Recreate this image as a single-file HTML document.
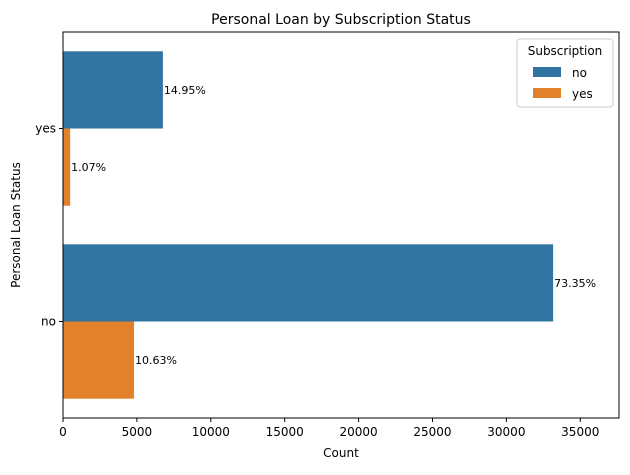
<!DOCTYPE html>
<html><head><meta charset="utf-8"><style>
body{margin:0;background:#fff;font-family:"Liberation Sans","DejaVu Sans",sans-serif}
svg text{font-family:"DejaVu Sans","Liberation Sans",sans-serif}
</style></head><body>
<svg width="630" height="470" viewBox="0 0 630 470">
<g id="plot"></g>
</svg>
<script>
const categories = ["yes","no"];
const seriesNames = ["no","yes"];
const seriesNo = [6760, 33162];
const seriesYes = [484, 4805];
const pctNo = ["14.95%","73.35%"];
const pctYes = ["1.07%","10.63%"];
const xTicks = [0,5000,10000,15000,20000,25000,30000,35000];
const colors = ["#3274a1","#e1812c"];
const L=63,R=619,T=32,B=418, XMAX=37620;
const x=v=>L+(v/XMAX)*(R-L);
const band=(B-T)/categories.length;
const yc=i=>T+band*(i+0.5);
const g=document.getElementById('plot');
const NS="http://www.w3.org/2000/svg";
function mk(t,a,txt){const e=document.createElementNS(NS,t);for(const k in a)e.setAttribute(k,a[k]);if(txt!=null)e.textContent=txt;g.appendChild(e);return e;}
const bh=band*0.4;
categories.forEach((c,i)=>{
  [seriesNo,seriesYes].forEach((s,j)=>{
    const y0=yc(i)-bh+j*bh;
    const r=mk('rect',{x:L,y:y0,width:x(s[i])-L,height:bh,fill:colors[j]});
    
    
    const lab=[pctNo,pctYes][j][i];
    const t=mk('text',{x:x(s[i])+1,y:y0+bh/2+4,'font-size':11,fill:'#000'},lab);
    
    
  });
  mk('line',{x1:L-4,x2:L,y1:yc(i),y2:yc(i),stroke:'#000'});
  const t=mk('text',{x:L-7,y:yc(i)+4,'font-size':12,'text-anchor':'end'},c);
  
  
});
xTicks.forEach(v=>{
  mk('line',{x1:x(v),x2:x(v),y1:B,y2:B+4,stroke:'#000'});
  const t=mk('text',{x:x(v),y:B+18,'font-size':12,'text-anchor':'middle'},v);
  
  
});
const fr=mk('rect',{x:L,y:T,width:R-L,height:B-T,fill:'none',stroke:'#000','stroke-width':1});


let t=mk('text',{x:(L+R)/2,y:24,'font-size':14,'text-anchor':'middle'},'Personal Loan by Subscription Status');

t=mk('text',{x:(L+R)/2,y:457,'font-size':12,'text-anchor':'middle'},'Count');

t=mk('text',{x:20,y:(T+B)/2,'font-size':12,'text-anchor':'middle',transform:'rotate(-90 20 '+(T+B)/2+')'},'Personal Loan Status');

const lg=mk('rect',{x:517,y:39,width:96,height:68,rx:3,fill:'#fff',stroke:'#ccc'});

t=mk('text',{x:565,y:55,'font-size':12,'text-anchor':'middle'},'Subscription');

seriesNames.forEach((n,j)=>{
  const r=mk('rect',{x:533,y:67+j*21,width:28,height:10,fill:colors[j]});
  
  const tt=mk('text',{x:572,y:77+j*21,'font-size':12},n);
  
});
</script>
</body></html>
